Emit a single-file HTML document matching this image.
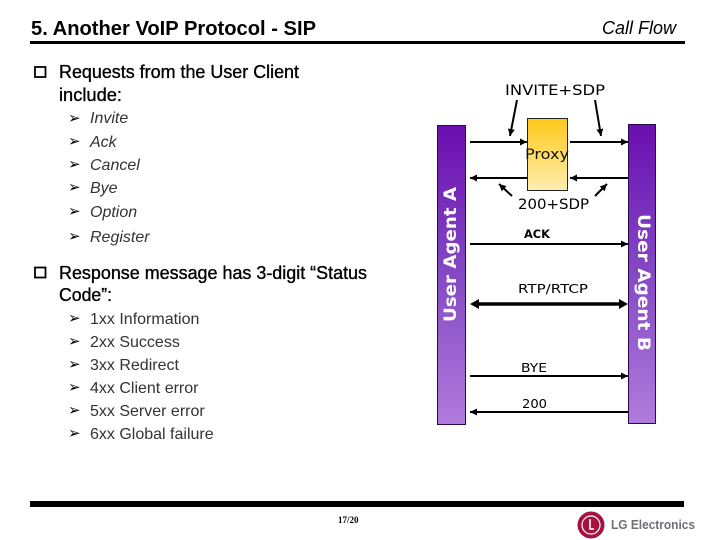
<!DOCTYPE html>
<html><head><meta charset="utf-8"><style>
html,body{margin:0;padding:0;background:#fff}
svg{display:block}
.s{font-family:"Liberation Sans",sans-serif}
.d{font-family:"DejaVu Sans",sans-serif}
.b{font-size:18px;fill:#000;stroke:#000;stroke-width:.35px}
.i{font-size:16px;font-style:italic;fill:#333}
.n{font-size:16px;fill:#333}
</style></head><body>
<svg width="720" height="540" viewBox="0 0 720 540" xmlns="http://www.w3.org/2000/svg">
<defs>
<linearGradient id="p" x1="0" y1="0" x2="0" y2="1"><stop offset="0" stop-color="#6a0fb0"/><stop offset=".5" stop-color="#8549c4"/><stop offset="1" stop-color="#b07bdc"/></linearGradient>
<linearGradient id="y" x1="0" y1="0" x2="0" y2="1"><stop offset="0" stop-color="#ffc91a"/><stop offset="1" stop-color="#ffeeb0"/></linearGradient>
<marker id="a" markerUnits="userSpaceOnUse" markerWidth="8" markerHeight="8" refX="7" refY="3.5" orient="auto-start-reverse"><path d="M0 0L7 3.5L0 7Z" fill="#000"/></marker>
</defs>
<text class="s" x="31" y="35" font-size="20" font-weight="bold" textLength="285" lengthAdjust="spacingAndGlyphs">5. Another VoIP Protocol - SIP</text>
<text class="s" x="602" y="34" font-size="18" font-style="italic" textLength="74" lengthAdjust="spacingAndGlyphs">Call Flow</text>
<rect x="30" y="41" width="655" height="3" fill="#000"/>

<rect x="35" y="67" width="10.5" height="10" fill="none" stroke="#000" stroke-width="1.8"/>
<text class="s b" x="59" y="78" textLength="240" lengthAdjust="spacingAndGlyphs">Requests from the User Client</text>
<text class="s b" x="59" y="101" textLength="63" lengthAdjust="spacingAndGlyphs">include:</text>
<g class="s i">
<text x="90" y="123">Invite</text><text x="90" y="147">Ack</text><text x="90" y="170">Cancel</text><text x="90" y="193">Bye</text><text x="90" y="217">Option</text><text x="90" y="242">Register</text>
</g>
<g class="d" font-size="15" fill="#000">
<text x="68" y="123">➢</text><text x="68" y="146">➢</text><text x="68" y="169">➢</text><text x="68" y="192">➢</text><text x="68" y="216">➢</text><text x="68" y="241">➢</text>
<text x="68" y="323">➢</text><text x="68" y="346">➢</text><text x="68" y="369">➢</text><text x="68" y="392">➢</text><text x="68" y="415">➢</text><text x="68" y="438">➢</text>
</g>
<rect x="35" y="267.5" width="10.5" height="10" fill="none" stroke="#000" stroke-width="1.8"/>
<text class="s b" x="59" y="279" textLength="308" lengthAdjust="spacingAndGlyphs">Response message has 3-digit “Status</text>
<text class="s b" x="59" y="301" textLength="53" lengthAdjust="spacingAndGlyphs">Code”:</text>
<g class="s n">
<text x="90" y="324">1xx Information</text><text x="90" y="347">2xx Success</text><text x="90" y="370">3xx Redirect</text><text x="90" y="393">4xx Client error</text><text x="90" y="416">5xx Server error</text><text x="90" y="439">6xx Global failure</text>
</g>

<rect x="437.5" y="125.5" width="28" height="299" fill="url(#p)" stroke="#2a0a50"/>
<rect x="628.5" y="124.5" width="27" height="299" fill="url(#p)" stroke="#2a0a50"/>
<text class="d" transform="translate(456,322) rotate(-90)" font-size="17" font-weight="bold" fill="#fff" textLength="135" lengthAdjust="spacingAndGlyphs">User Agent A</text>
<text class="d" transform="translate(638,214) rotate(90)" font-size="17" font-weight="bold" fill="#fff" textLength="137" lengthAdjust="spacingAndGlyphs">User Agent B</text>
<rect x="527.5" y="118.5" width="40" height="72" fill="url(#y)" stroke="#222"/>
<text class="d" x="525" y="159" font-size="14.5" fill="#111" textLength="44" lengthAdjust="spacingAndGlyphs">Proxy</text>
<text class="d" x="505" y="95" font-size="14.5" fill="#000" textLength="100" lengthAdjust="spacingAndGlyphs">INVITE+SDP</text>
<text class="d" x="518" y="209" font-size="14.5" fill="#000" textLength="71" lengthAdjust="spacingAndGlyphs">200+SDP</text>
<text class="d" x="524" y="238" font-size="11.5" font-weight="bold" fill="#000" textLength="26" lengthAdjust="spacingAndGlyphs">ACK</text>
<text class="d" x="518" y="293" font-size="12" fill="#000" textLength="70" lengthAdjust="spacingAndGlyphs">RTP/RTCP</text>
<text class="d" x="521" y="372" font-size="12" fill="#000" textLength="26" lengthAdjust="spacingAndGlyphs">BYE</text>
<text class="d" x="522" y="408" font-size="12" fill="#000" textLength="25" lengthAdjust="spacingAndGlyphs">200</text>

<g stroke="#000" stroke-width="2" fill="none">
<path d="M470 142H527" marker-end="url(#a)"/>
<path d="M570 142H628" marker-end="url(#a)"/>
<path d="M527 178H470" marker-end="url(#a)"/>
<path d="M628 178H570" marker-end="url(#a)"/>
<path d="M470 244H628" marker-end="url(#a)"/>
<path d="M470 376H628" marker-end="url(#a)"/>
<path d="M628 412H470" marker-end="url(#a)"/>
<path d="M517 100L510 136" marker-end="url(#a)"/>
<path d="M595 100L601 136" marker-end="url(#a)"/>
<path d="M512 196L499 184" marker-end="url(#a)"/>
<path d="M595 196L607 184" marker-end="url(#a)"/>
</g>
<path d="M478 304H620" stroke="#000" stroke-width="3.5"/>
<path d="M470 304L479 299V309Z M628 304L619 299V309Z" fill="#000"/>

<rect x="30" y="501" width="654" height="6" fill="#000"/>
<text x="338" y="523" font-family="Liberation Serif,serif" font-size="9" font-weight="bold" fill="#000">17/20</text>
<circle cx="591" cy="525" r="13.5" fill="#a5123f"/>
<circle cx="591" cy="525" r="9" fill="none" stroke="#fff" stroke-width="1.2"/>
<path d="M590 519V529H594" stroke="#fff" stroke-width="1.6" fill="none"/>
<text class="s" x="611" y="529" font-size="12.5" font-weight="bold" fill="#6d7075" textLength="84" lengthAdjust="spacingAndGlyphs">LG Electronics</text>
</svg>
</body></html>
